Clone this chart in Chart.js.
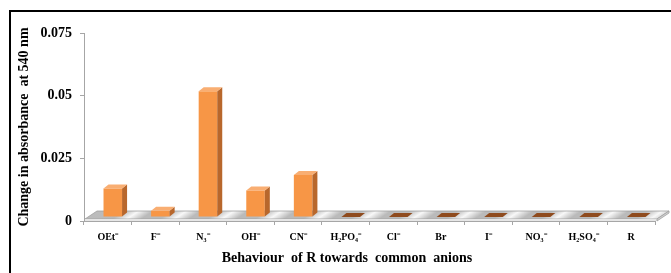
<!DOCTYPE html>
<html>
<head>
<meta charset="utf-8">
<script src="https://cdn.jsdelivr.net/npm/chart.js@4.4.1/dist/chart.umd.min.js"></script>
<style>
  body { margin: 0; background: #fff; }
</style>
</head>
<body>
<canvas id="myChart" width="671" height="273"></canvas>
<script>
// Data
const anions = ['OEt⁻', 'F⁻', 'N₃⁻', 'OH⁻', 'CN⁻', 'H₂PO₄⁻', 'Cl⁻', 'Br', 'I⁻', 'NO₃⁻', 'H₂SO₄⁻', 'R'];
const absorbanceChange = [0.0114, 0.0025, 0.0502, 0.0106, 0.0168, 0, 0, 0, 0, 0, 0, 0];
const yTickLabels = ['0', '0.025', '0.05', '0.075'];
const yTitle = 'Change in absorbance  at 540 nm';
const xTitle = 'Behaviour  of R towards  common  anions';

const serif = '"Liberation Serif", "Times New Roman", serif';
const axisGray = '#a6a6a6';

// 3D look: shaded floor, then bars pushed back onto it with side + top faces
const barDx = 5, barDy = -4;

const floorPlugin = {
  id: 'floor',
  beforeDatasetsDraw(chart) {
    const { ctx, chartArea: a, scales } = chart;
    const y0 = scales.y.getPixelForValue(0);
    const w = (a.right - a.left) / anions.length;
    const fx0 = a.left + 1, fx1 = a.right + 2, fy = y0 - 2, dx = 12, dy = -8;

    // diagonal metallic stripes
    const ux = 0.555, uy = 0.832;
    const Ax = fx0, Ay = fy + dy;
    const L = (fx1 + dx - fx0) * ux + 2 * Math.abs(dy) * uy;
    const g = ctx.createLinearGradient(Ax, Ay, Ax + ux * L, Ay + uy * L);
    const proj = (px, py) => ((px - Ax) * ux + (py - Ay) * uy) / L;
    const d = (0.3 * w * ux) / L;
    g.addColorStop(0, '#bdbdbd');
    for (let k = 0; k <= anions.length; k++) {
      const t = proj(a.left + k * w - 0.1 * w + dx / 2, fy + dy / 2);
      if (t - d > 0 && t + d < 1) {
        g.addColorStop(t - d, '#bababa');
        g.addColorStop(t, '#f8f8f8');
        g.addColorStop(t + d, '#bababa');
      }
    }
    g.addColorStop(1, '#bdbdbd');

    ctx.save();
    ctx.beginPath();
    ctx.moveTo(fx0, fy);
    ctx.lineTo(fx1, fy);
    ctx.lineTo(fx1 + dx, fy + dy);
    ctx.lineTo(fx0 + dx, fy + dy);
    ctx.closePath();
    ctx.fillStyle = g;
    ctx.fill();
    ctx.strokeStyle = '#a0a0a0';
    ctx.lineWidth = 0.8;
    ctx.stroke();

    // floor slab edge
    ctx.fillStyle = '#e6e6e6';
    ctx.fillRect(fx0, fy, fx1 - fx0, 2);
    ctx.beginPath();
    ctx.moveTo(fx1, fy);
    ctx.lineTo(fx1 + dx, fy + dy);
    ctx.lineTo(fx1 + dx, fy + dy + 2);
    ctx.lineTo(fx1, fy + 2);
    ctx.closePath();
    ctx.fillStyle = '#d2d2d2';
    ctx.fill();
    ctx.strokeStyle = '#a0a0a0';
    ctx.stroke();
    ctx.restore();

    // bars sit in the middle of the floor depth
    ctx.save();
    ctx.translate(barDx, barDy);
  },
  afterDatasetsDraw(chart) {
    const { ctx } = chart;
    const meta = chart.getDatasetMeta(0);
    meta.data.forEach((bar, i) => {
      const p = bar.getProps(['x', 'y', 'base', 'width'], true);
      const l = p.x - p.width / 2, r = p.x + p.width / 2;
      if (absorbanceChange[i] === 0) {
        ctx.beginPath();
        ctx.moveTo(l, p.base);
        ctx.lineTo(l + barDx, p.base + barDy);
        ctx.lineTo(r + barDx, p.base + barDy);
        ctx.lineTo(r, p.base);
        ctx.closePath();
        ctx.fillStyle = '#8f4b1e';
        ctx.fill();
        return;
      }
      // side
      ctx.beginPath();
      ctx.moveTo(r, p.y);
      ctx.lineTo(r + barDx, p.y + barDy);
      ctx.lineTo(r + barDx, p.base + barDy);
      ctx.lineTo(r, p.base);
      ctx.closePath();
      ctx.fillStyle = '#b8672c';
      ctx.fill();
      // top
      ctx.beginPath();
      ctx.moveTo(l, p.y);
      ctx.lineTo(l + barDx, p.y + barDy);
      ctx.lineTo(r + barDx, p.y + barDy);
      ctx.lineTo(r, p.y);
      ctx.closePath();
      ctx.fillStyle = '#f9ae72';
      ctx.fill();
    });
    ctx.restore();
  }
};

const framePlugin = {
  id: 'frame',
  afterDraw(chart) {
    const { ctx } = chart;
    ctx.save();
    ctx.fillStyle = '#000';
    ctx.fillRect(9, 10, 662, 2);
    ctx.fillRect(9, 10, 2, 263);
    // x axis title
    ctx.font = 'bold 14px ' + serif;
    ctx.textAlign = 'center';
    ctx.textBaseline = 'middle';
    ctx.fillText(xTitle, 347, 258);
    ctx.restore();
  }
};

const ctx = document.getElementById('myChart').getContext('2d');
const chart = new Chart(ctx, {
  type: 'bar',
  data: {
    labels: anions,
    datasets: [{
      data: absorbanceChange,
      backgroundColor: '#f79646',
      borderWidth: 0,
      categoryPercentage: 1,
      barPercentage: 0.39
    }]
  },
  options: {
    responsive: false,
    animation: false,
    layout: { padding: { left: 12, right: 16, top: 33, bottom: 0 } },
    plugins: {
      legend: { display: false },
      tooltip: { enabled: false }
    },
    scales: {
      x: {
        grid: { offset: true, drawOnChartArea: false, tickLength: 4, color: axisGray },
        border: { color: axisGray },
        ticks: {
          font: { family: serif, size: 10, weight: 'bold' },
          color: '#000',
          padding: 6,
          maxRotation: 0,
          autoSkip: false
        },
        afterFit(s) { s.height = 52; }
      },
      y: {
        min: 0,
        max: 0.075,
        grid: { drawOnChartArea: false, tickLength: 4, color: axisGray },
        border: { color: axisGray },
        ticks: {
          stepSize: 0.025,
          callback: (v, i) => yTickLabels[i],
          font: { family: serif, size: 14, weight: 'bold' },
          color: '#000',
          padding: 8
        },
        title: {
          display: true,
          text: yTitle,
          font: { family: serif, size: 14, weight: 'bold' },
          color: '#000',
          padding: { top: 4, bottom: 0 }
        },
        afterFit(s) { s.width = 72; }
      }
    }
  },
  plugins: [floorPlugin, framePlugin]
});
</script>
</body>
</html>
